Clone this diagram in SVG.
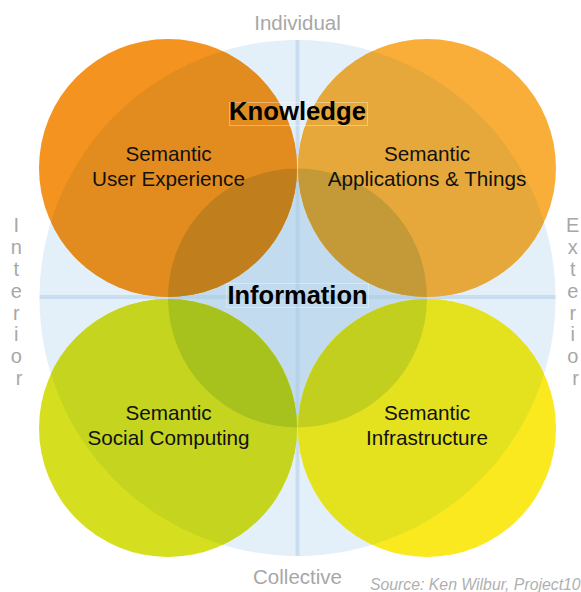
<svg xmlns="http://www.w3.org/2000/svg" width="581" height="592" viewBox="0 0 581 592">
  <style>
    text { font-family: "Liberation Sans", Arial, Helvetica, sans-serif; }
    .axis-label { font-size: 20.5px; fill: #a7a7a7; text-anchor: middle; }
    .side-label { font-size: 20px; fill: #a7a7a7; text-anchor: middle; }
    .node-label { font-size: 20.7px; fill: #111111; text-anchor: middle; }
    .level-label { font-size: 25px; font-weight: bold; fill: #000000; text-anchor: middle; }
    .level-box { fill: none; stroke: #ffffff; stroke-opacity: 0.35; stroke-width: 1; }
    .source { font-size: 15.8px; font-style: italic; fill: #b0b0b0; }
    .axis-line { stroke: #9fc3e3; stroke-opacity: 0.38; stroke-width: 4; }
  </style>
  <defs>
    <clipPath id="clipBig"><circle cx="297.5" cy="298" r="258"/></clipPath>
    <clipPath id="clipInner"><circle cx="297.5" cy="298" r="129.5"/></clipPath>
  </defs>

  <rect x="0" y="0" width="581" height="592" fill="#ffffff"/>

  <g id="field">
    <circle cx="297.5" cy="298" r="258" fill="#e3eff9"/>
    <circle cx="297.5" cy="298" r="129.5" fill="#c3dbee"/>
  </g>

  <g id="connectors">
    <line class="axis-line" x1="297.5" y1="40" x2="297.5" y2="556"/>
    <line class="axis-line" x1="39.5" y1="297" x2="555.5" y2="297"/>
  </g>

  <g id="node-user-experience">
    <circle cx="168" cy="168" r="129" fill="#f4931f"/>
    <circle cx="168" cy="168" r="129" fill="#e28c1f" clip-path="url(#clipBig)"/>
    <circle cx="168" cy="168" r="129" fill="#c07f1c" clip-path="url(#clipInner)"/>
    <text class="node-label" x="168.5" y="161">Semantic</text>
    <text class="node-label" x="168.5" y="186">User Experience</text>
  </g>

  <g id="node-applications-things">
    <circle cx="427" cy="168" r="129" fill="#f9ae3a"/>
    <circle cx="427" cy="168" r="129" fill="#e6a83a" clip-path="url(#clipBig)"/>
    <circle cx="427" cy="168" r="129" fill="#c49a38" clip-path="url(#clipInner)"/>
    <text class="node-label" x="427" y="161">Semantic</text>
    <text class="node-label" x="427" y="186">Applications &amp; Things</text>
  </g>

  <g id="node-social-computing">
    <circle cx="168" cy="428" r="129" fill="#d6df1f"/>
    <circle cx="168" cy="428" r="129" fill="#c5d51f" clip-path="url(#clipBig)"/>
    <circle cx="168" cy="428" r="129" fill="#a7c21d" clip-path="url(#clipInner)"/>
    <text class="node-label" x="168.5" y="420">Semantic</text>
    <text class="node-label" x="168.5" y="445">Social Computing</text>
  </g>

  <g id="node-infrastructure">
    <circle cx="427" cy="428" r="129" fill="#fbe91f"/>
    <circle cx="427" cy="428" r="129" fill="#e4e21f" clip-path="url(#clipBig)"/>
    <circle cx="427" cy="428" r="129" fill="#c2cf1f" clip-path="url(#clipInner)"/>
    <text class="node-label" x="427" y="420">Semantic</text>
    <text class="node-label" x="427" y="445">Infrastructure</text>
  </g>

  <g id="node-knowledge">
    <rect class="level-box" x="229.5" y="102.5" width="138" height="23"/>
    <text class="level-label" x="297.5" y="120" textLength="137" lengthAdjust="spacingAndGlyphs">Knowledge</text>
  </g>

  <g id="node-information">
    <rect class="level-box" x="226.5" y="283.5" width="142" height="24"/>
    <text class="level-label" x="297.5" y="304" textLength="140" lengthAdjust="spacingAndGlyphs">Information</text>
  </g>

  <g id="axis-labels">
    <text class="axis-label" x="297.5" y="30">Individual</text>
    <text class="axis-label" x="297.5" y="584">Collective</text>
    <text class="side-label">
      <tspan x="19" y="232">I</tspan>
      <tspan x="19" y="254">n</tspan>
      <tspan x="19" y="276">t</tspan>
      <tspan x="19" y="298">e</tspan>
      <tspan x="19" y="319.5">r</tspan>
      <tspan x="19" y="341">i</tspan>
      <tspan x="19" y="363">o</tspan>
      <tspan x="19" y="385">r</tspan>
    </text>
    <text class="side-label">
      <tspan x="575.5" y="232">E</tspan>
      <tspan x="575.5" y="254">x</tspan>
      <tspan x="575.5" y="276">t</tspan>
      <tspan x="575.5" y="298">e</tspan>
      <tspan x="575.5" y="319.5">r</tspan>
      <tspan x="575.5" y="341">i</tspan>
      <tspan x="575.5" y="363">o</tspan>
      <tspan x="575.5" y="385">r</tspan>
    </text>
    <text class="source" x="370" y="590">Source: Ken Wilbur, Project10</text>
  </g>
</svg>
